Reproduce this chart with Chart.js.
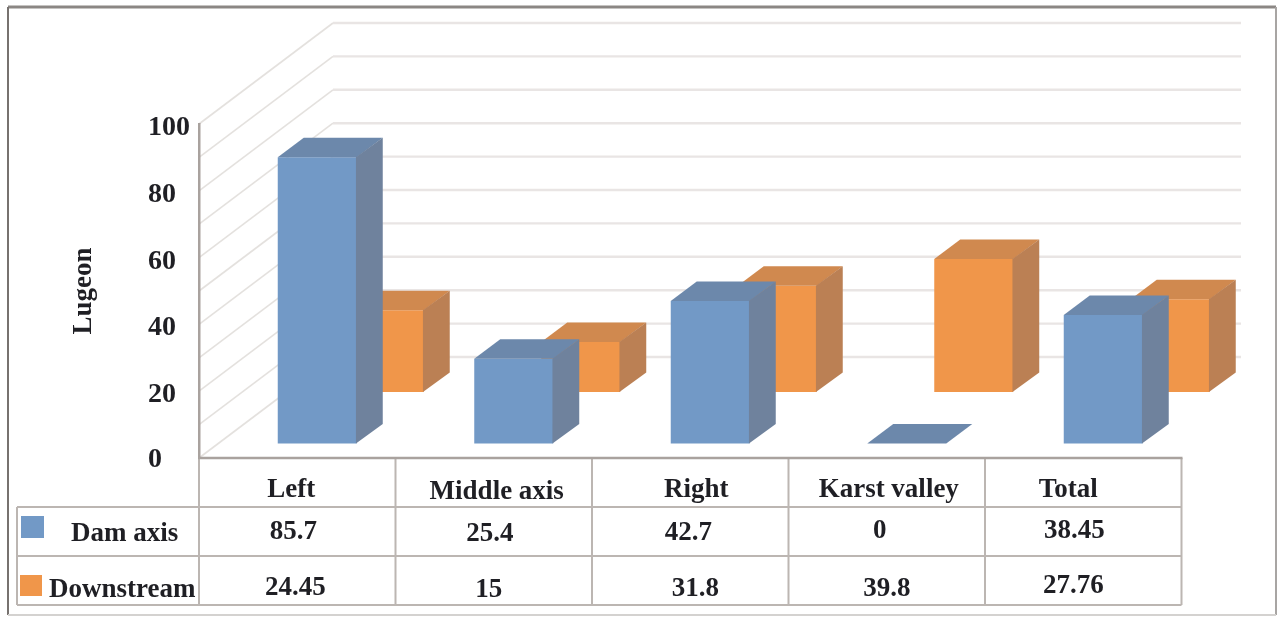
<!DOCTYPE html>
<html>
<head>
<meta charset="utf-8">
<style>
html,body{margin:0;padding:0;background:#fff;}
#wrap{position:relative;width:1277px;height:617px;}
canvas{display:block;filter:blur(0.7px);}
</style>
<script src="https://cdn.jsdelivr.net/npm/chart.js@4/dist/chart.umd.min.js"></script>
</head>
<body>
<div id="wrap"><canvas id="c" width="1277" height="617"></canvas></div>
<script>
const categories = ["Left", "Middle axis", "Right", "Karst valley", "Total"];
const damAxis = [85.7, 25.4, 42.7, 0, 38.45];
const downstream = [24.45, 15, 31.8, 39.8, 27.76];
const seriesNames = ["Dam axis", "Downstream"];
const yTicks = [0, 20, 40, 60, 80, 100];
const gridValues = [0, 10, 20, 30, 40, 50, 60, 70, 80, 90, 100];

// layout only
const FONT = 'bold 27px "Liberation Serif", serif';
const TEXT = '#1f1f24';
const WALL = {dx: 134, dy: -101, right: 1241};
const BAR_DEPTH = {dx: 26, dy: -19.5};
const SHIFT = [{dx: 20, dy: -14.5}, {dx: 87, dy: -66}];
const FACES = [
  {front: '#7299c6', top: '#6c88ab', side: '#6f829d'},
  {front: '#f0964a', top: '#d0894f', side: '#bb8054'}
];
const ROWS = [458, 507, 556, 605];
const TABLE_LEFT = 17;
const HEAD_NUDGE = [[-6, 490], [3, 492], [6, 490], [2, 490], [-15, 490]];
const ROW_NUDGE = [
  [[-4, 532], [-4, 534], [-2, 533], [-7, 531], [-9, 531]],
  [[-2, 588], [-5, 590], [5, 589], [0, 589], [-10, 586]]
];
const TICK_NUDGE = [2, 4, 3, 4, 4, 4];

const scene = {
  id: 'scene',
  beforeDraw(chart) {
    const {ctx} = chart, y = chart.scales.y, area = chart.chartArea;
    ctx.save();
    ctx.fillStyle = '#fff';
    ctx.fillRect(0, 0, chart.width, chart.height);
    const edge = (x1, y1, x2, y2, c, w) => {
      ctx.strokeStyle = c; ctx.lineWidth = w;
      ctx.beginPath(); ctx.moveTo(x1, y1); ctx.lineTo(x2, y2); ctx.stroke();
    };
    edge(8, 7, 1276, 7, '#8b8784', 3);
    edge(8, 7, 8, 615, '#77726f', 2);
    edge(1276, 7, 1276, 615, '#a8a5a3', 2);
    edge(8, 615, 1276, 615, '#d4d2d0', 2);
    gridValues.forEach(v => {
      const p = y.getPixelForValue(v);
      edge(area.left, p, area.left + WALL.dx, p + WALL.dy, '#e4e1de', 1.6);
      edge(area.left + WALL.dx, p + WALL.dy, WALL.right, p + WALL.dy, '#e9e5e4', 2.4);
    });
    // shift the axis's own tick labels onto the reference's baseline
    if (!y.$nudged) {
      y.getLabelItems(area).forEach((item, i) => {
        item.options.translation = [item.options.translation[0], item.options.translation[1] + TICK_NUDGE[i]];
      });
      y.$nudged = true;
    }
    ctx.restore();
  },
  beforeDatasetDraw(chart, args) {
    const s = SHIFT[args.index];
    chart.ctx.save();
    chart.ctx.translate(s.dx, s.dy);
  },
  afterDatasetDraw(chart, args) {
    const {ctx} = chart, f = FACES[args.index];
    const {dx, dy} = BAR_DEPTH;
    args.meta.data.forEach(b => {
      const l = b.x - b.width / 2, r = b.x + b.width / 2, t = b.y, bt = b.base;
      ctx.fillStyle = f.top;
      ctx.beginPath();
      ctx.moveTo(l, t); ctx.lineTo(l + dx, t + dy); ctx.lineTo(r + dx, t + dy); ctx.lineTo(r, t);
      ctx.closePath(); ctx.fill();
      if (bt - t > 0.5) {
        ctx.fillStyle = f.side;
        ctx.beginPath();
        ctx.moveTo(r - 0.8, t); ctx.lineTo(r + dx, t + dy); ctx.lineTo(r + dx, bt + dy); ctx.lineTo(r - 0.8, bt);
        ctx.closePath(); ctx.fill();
      }
    });
    ctx.restore();
  },
  afterDraw(chart) {
    const {ctx} = chart, x = chart.scales.x, area = chart.chartArea;
    const colW = x.getPixelForTick(1) - x.getPixelForTick(0);
    ctx.save();
    const right = area.right;
    ctx.strokeStyle = '#bcb6b2'; ctx.lineWidth = 2;
    ctx.beginPath();
    ctx.moveTo(TABLE_LEFT, ROWS[1]); ctx.lineTo(right, ROWS[1]);
    ctx.moveTo(TABLE_LEFT, ROWS[2]); ctx.lineTo(right, ROWS[2]);
    ctx.moveTo(TABLE_LEFT, ROWS[3]); ctx.lineTo(right, ROWS[3]);
    ctx.moveTo(TABLE_LEFT, ROWS[1]); ctx.lineTo(TABLE_LEFT, ROWS[3]);
    for (let i = 0; i <= categories.length; i++) {
      const px = area.left + colW * i;
      ctx.moveTo(px, ROWS[0]); ctx.lineTo(px, ROWS[3]);
    }
    ctx.stroke();
    ctx.strokeStyle = '#a9a29e'; ctx.lineWidth = 2.5;
    ctx.beginPath(); ctx.moveTo(area.left - 1, ROWS[0]); ctx.lineTo(right + 1, ROWS[0]); ctx.stroke();

    ctx.font = FONT; ctx.fillStyle = TEXT;
    ctx.textAlign = 'center'; ctx.textBaseline = 'middle';
    categories.forEach((c, i) => {
      ctx.fillText(c, x.getPixelForTick(i) + HEAD_NUDGE[i][0], HEAD_NUDGE[i][1]);
    });
    [damAxis, downstream].forEach((vals, r) => {
      vals.forEach((v, i) => {
        ctx.fillText(String(v), x.getPixelForTick(i) + ROW_NUDGE[r][i][0], ROW_NUDGE[r][i][1]);
      });
    });
    ctx.textAlign = 'left';
    ctx.fillText(seriesNames[0], 71, 534);
    ctx.fillText(seriesNames[1], 49, 590);
    ctx.fillStyle = FACES[0].front; ctx.fillRect(21, 516, 23, 22);
    ctx.fillStyle = FACES[1].front; ctx.fillRect(20, 575, 22, 21);
    ctx.restore();
  }
};

new Chart(document.getElementById('c'), {
  type: 'bar',
  data: {
    labels: categories,
    datasets: [
      {label: seriesNames[0], data: damAxis, backgroundColor: FACES[0].front, clip: false},
      {label: seriesNames[1], data: downstream, backgroundColor: FACES[1].front, clip: false}
    ]
  },
  options: {
    responsive: false,
    animation: false,
    layout: {padding: {top: 124, right: 95.5, bottom: 0, left: 0}},
    datasets: {bar: {grouped: false, barPercentage: 0.402, categoryPercentage: 1, borderWidth: 0}},
    plugins: {
      legend: {display: false},
      tooltip: {enabled: false},
      title: {
        display: true,
        text: 'Lugeon',
        position: 'left',
        fullSize: false,
        color: TEXT,
        font: {family: '"Liberation Serif", serif', size: 27, weight: 'bold', lineHeight: 1.2},
        padding: {top: 68, bottom: 47.6}
      }
    },
    scales: {
      x: {
        grid: {display: false},
        border: {display: false},
        ticks: {display: false},
        afterFit(s) { s.height = 159; }
      },
      y: {
        min: 0,
        max: 100,
        grid: {display: false},
        border: {display: true, color: '#a9a29e', width: 2.5},
        afterBuildTicks(s) { s.ticks = yTicks.map(v => ({value: v})); },
        ticks: {
          crossAlign: 'far',
          color: TEXT,
          font: {family: '"Liberation Serif", serif', size: 28, weight: 'bold'}
        },
        afterFit(s) { s.width = 51; }
      }
    }
  },
  plugins: [scene]
});
</script>
</body>
</html>
